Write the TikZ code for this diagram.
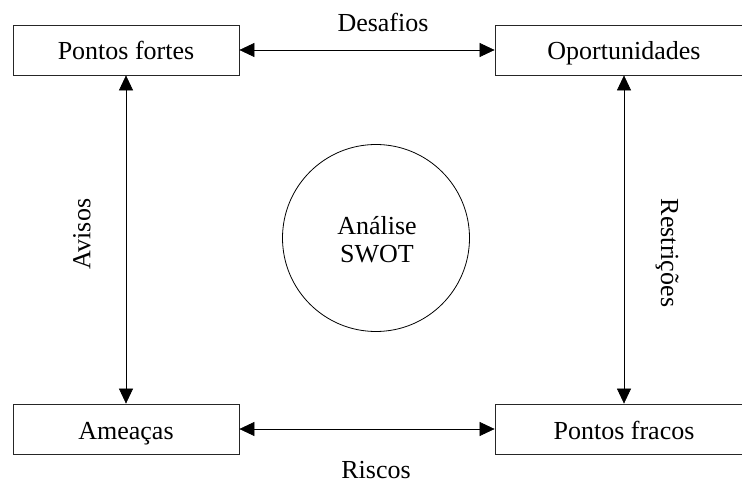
\documentclass[tikz,border=0pt]{standalone}
\usepackage{fontspec}
\setmainfont{Liberation Serif}
\usetikzlibrary{arrows.meta}
\begin{document}
\begin{tikzpicture}[x=1pt,y=-1pt,
  txt/.style={font=\fontsize{26}{28}\selectfont, inner sep=0pt},
  quad/.style={draw=black!85, line width=0.8pt, fill=white},
  link/.style={draw=black, line width=0.6pt, {Triangle[length=15pt,width=14pt]}-{Triangle[length=15pt,width=14pt]}, shorten <=0.4pt, shorten >=0.4pt}
]
\useasboundingbox (0,0) rectangle (742,481);
\clip (0,0) rectangle (742,481);

% four quadrant boxes
\draw[quad] (13,25) rectangle (239,75);
\draw[quad] (495,25) rectangle (753,75);
\draw[quad] (13,404) rectangle (239,454);
\draw[quad] (495,404) rectangle (753,454);
\node[txt, anchor=base] (sl) at (126,60) {Pontos fortes};
\node[txt, anchor=base] (ol) at (624,60) {Oportunidades};
\node[txt, anchor=base] (tl) at (126,439) {Ameaças};
\node[txt, anchor=base] (wl) at (624,439) {Pontos fracos};

% box edge anchors
\coordinate (sE) at (239,50);
\coordinate (sS) at (126,75);
\coordinate (oW) at (495,50);
\coordinate (oS) at (624,75);
\coordinate (tE) at (239,429);
\coordinate (tN) at (126,404);
\coordinate (wW) at (495,429);
\coordinate (wN) at (624,404);

% connectors
\draw[link] (sE) -- (oW);
\draw[link] (tE) -- (wW);
\draw[link] (sS) -- (tN);
\draw[link] (oS) -- (wN);

% centre circle
\draw[line width=0.8pt] (376,238) circle[radius=93.5];
\node[txt, anchor=base] (swot1) at (377,235) {Análise};
\node[txt, anchor=base] (swot2) at (377,263) {SWOT};

% connector labels
\node[txt, anchor=base] (des) at (383,32) {Desafios};
\node[txt, anchor=base] (ris) at (376,478) {Riscos};
\node[txt, rotate=90] (avi) at (82,234) {Avisos};
\node[txt, rotate=-90] (res) at (667,253) {Restrições};
\end{tikzpicture}
\end{document}
